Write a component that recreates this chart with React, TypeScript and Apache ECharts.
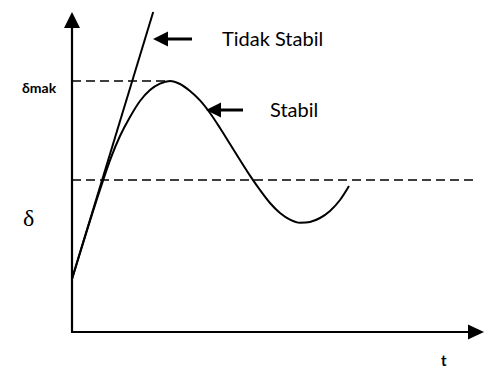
import React, { useEffect, useRef } from "react";
import * as echarts from "echarts";

// time axis (t) and rotor angle (δ) in arbitrary units
const tUnstable = [0, 2.03];
const deltaUnstable = [1.325, 8.0];

const tStable = [0, 0.25, 0.5, 0.75, 0.975, 1.2, 1.45, 1.7, 1.95, 2.2, 2.45, 2.7, 2.95, 3.2, 3.45, 3.7, 3.95, 4.2, 4.45, 4.7, 4.95, 5.2, 5.45, 5.7, 5.95, 6.2, 6.45, 6.7, 6.925];
const deltaStable = [1.325, 2.14, 2.94, 3.71, 4.36, 4.9, 5.375, 5.775, 6.05, 6.21, 6.275, 6.2, 6.025, 5.79, 5.475, 5.1, 4.7, 4.3, 3.91, 3.55, 3.225, 2.975, 2.81, 2.73, 2.75, 2.85, 3.025, 3.3, 3.65];

const deltaMax = 6.275;
const tDeltaMax = 2.45;
const deltaRef = 3.8;
const tRefEnd = 10.35;

const labels = {
  deltaMax: "δmak",
  delta: "δ",
  t: "t",
  unstable: "Tidak Stabil",
  stable: "Stabil",
};

const zip = (a: number[], b: number[]) => a.map((v, i) => [v, b[i]]);

export default function App() {
  const ref = useRef<HTMLDivElement>(null);
  useEffect(() => {
    if (!ref.current) return;
    const chart = echarts.init(ref.current, null, { renderer: "svg" });
    const dashStyle = { color: "#000", width: 1.6, type: [9, 5] as any };
    chart.setOption({
      animation: false,
      backgroundColor: "#fff",
      grid: { left: 72, top: 20, right: 10, bottom: 37 },
      xAxis: {
        type: "value",
        min: 0,
        max: 10.1,
        axisLine: {
          show: true,
          lineStyle: { color: "#000", width: 2.2 },
          symbol: ["none", "triangle"],
          symbolSize: [15, 16],
        },
        axisTick: { show: false },
        axisLabel: { show: false },
        splitLine: { show: false },
      },
      yAxis: {
        type: "value",
        min: 0,
        max: 7.8,
        axisLine: {
          show: true,
          lineStyle: { color: "#000", width: 2.2 },
          symbol: ["none", "triangle"],
          symbolSize: [16, 16],
        },
        axisTick: { show: false },
        axisLabel: { show: false },
        splitLine: { show: false },
      },
      series: [
        {
          type: "line",
          data: [[0, deltaMax], [tDeltaMax, deltaMax]],
          showSymbol: false,
          lineStyle: dashStyle,
          clip: false,
        },
        {
          type: "line",
          data: [[0, deltaRef], [tRefEnd, deltaRef]],
          showSymbol: false,
          lineStyle: dashStyle,
          clip: false,
        },
        {
          type: "line",
          data: zip(tUnstable, deltaUnstable),
          showSymbol: false,
          lineStyle: { color: "#000", width: 2 },
          clip: false,
        },
        {
          type: "line",
          data: zip(tStable, deltaStable),
          showSymbol: false,
          smooth: 0.3,
          lineStyle: { color: "#000", width: 2 },
          clip: false,
        },
      ],
      graphic: [
        {
          type: "text",
          x: 22,
          y: 87,
          style: { text: labels.deltaMax, font: "bold 14px Lato", fill: "#000", verticalAlign: "middle" },
        },
        {
          type: "text",
          x: 23,
          y: 218,
          style: { text: labels.delta, font: "24px 'Liberation Serif'", fill: "#000", verticalAlign: "middle" },
        },
        {
          type: "text",
          x: 441,
          y: 360,
          style: { text: labels.t, font: "bold 15px Lato", fill: "#000", verticalAlign: "middle" },
        },
        {
          type: "text",
          x: 222,
          y: 38,
          style: { text: labels.unstable, font: "20px Lato", fill: "#000", verticalAlign: "middle" },
        },
        {
          type: "text",
          x: 270,
          y: 109,
          style: { text: labels.stable, font: "20px Lato", fill: "#000", verticalAlign: "middle" },
        },
        {
          type: "line",
          shape: { x1: 165, y1: 39, x2: 192, y2: 39 },
          style: { stroke: "#000", lineWidth: 3 },
        },
        {
          type: "polygon",
          shape: { points: [[153, 39], [168, 31.5], [168, 46.5]] },
          style: { fill: "#000" },
        },
        {
          type: "line",
          shape: { x1: 218, y1: 110, x2: 243, y2: 110 },
          style: { stroke: "#000", lineWidth: 3 },
        },
        {
          type: "polygon",
          shape: { points: [[206, 110], [221, 102.5], [221, 117.5]] },
          style: { fill: "#000" },
        },
      ],
    });
    return () => chart.dispose();
  }, []);
  return <div ref={ref} style={{ width: 486, height: 369, position: "absolute", left: 0, top: 0 }} />;
}
